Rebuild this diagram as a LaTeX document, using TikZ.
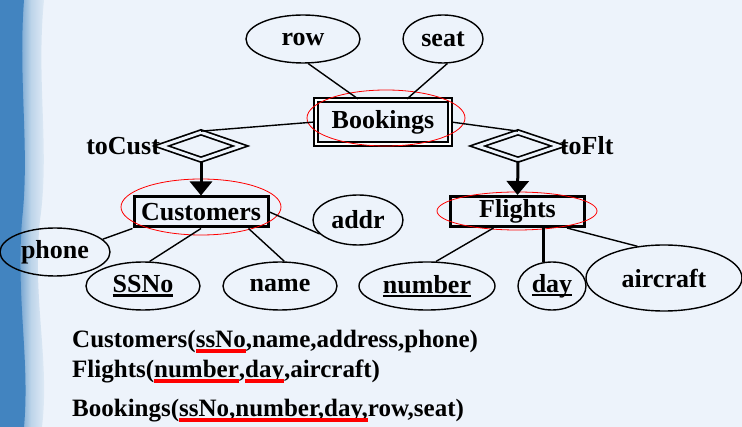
\documentclass[tikz,border=0pt]{standalone}
\usepackage{fontspec}
\setmainfont{Liberation Serif}
\usetikzlibrary{shapes.geometric,arrows.meta}
\definecolor{bg}{RGB}{237,243,251}
\definecolor{stripblue}{RGB}{66,132,192}
\tikzstyle{attr}=[ellipse,draw=black,line width=1.4pt,inner sep=0pt]
\tikzstyle{ent}=[rectangle,draw=black,line width=3pt,inner sep=0pt]
\tikzstyle{went}=[rectangle,draw=black,line width=2.2pt,double=white,double distance=1.6pt,inner sep=0pt]
\tikzstyle{rel}=[diamond,draw=black,line width=1.7pt,double=bg,double distance=3pt,inner sep=0pt]
\tikzstyle{hl}=[ellipse,draw=red,line width=0.8pt,inner sep=0pt]
\tikzstyle{ln}=[draw,line width=1.4pt]
\tikzstyle{isa}=[line width=3pt,-{Triangle[width=22pt,length=14pt]}]
\newcommand{\keyul}[1]{\setbox0=\hbox{#1}\rlap{\copy0}\rule[-4pt]{\wd0}{2.5pt}}
\newcommand{\redul}[1]{\setbox0=\hbox{#1}\rlap{\copy0}\textcolor{red}{\rule[-5pt]{\wd0}{3.5pt}}}

\begin{document}
\begin{tikzpicture}[x=1pt,y=-1pt,font=\fontsize{26}{30}\selectfont\bfseries]
\fill[bg] (0,0) rectangle (742,427);
\useasboundingbox (0,0) rectangle (742,427);
% left strip
\shade[left color=stripblue,right color=bg,middle color=stripblue!35!white] (12,0) -- (44,0) .. controls (36,80) and (50,150) .. (40,220) .. controls (32,300) and (50,360) .. (42,427) -- (12,427) -- cycle;
\fill[stripblue] (0,0) -- (24,0) .. controls (18,80) and (30,150) .. (22,220) .. controls (16,300) and (30,360) .. (24,427) -- (0,427) -- cycle;
% weak entity and its attributes
\node[attr,minimum width=114,minimum height=48] (row) at (303,39) {row};
\node[attr,minimum width=80,minimum height=48] (seat) at (443,39) {seat};
\node[went,minimum width=134,minimum height=44] (book) at (383,122) {Bookings};
\node[hl,minimum width=158,minimum height=56] (bookhl) at (386,118) {};
% relationships
\node[rel,minimum width=80,minimum height=28] (tocust) at (201,146) {};
\node[anchor=east,inner sep=0pt] (tocustlbl) at (tocust.west) {toCust};
\node[rel,minimum width=82,minimum height=28] (toflt) at (518,146) {};
\node[anchor=west,inner sep=0pt] (tofltlbl) at (toflt.east) {toFlt};
% entities
\node[ent,minimum width=134,minimum height=30] (cust) at (201,212) {Customers};
\node[hl,minimum width=160,minimum height=56] (custhl) at (201,207) {};
\node[ent,minimum width=134,minimum height=30] (flt) at (517.5,211.5) {Flights};
\node[hl,minimum width=160,minimum height=38] (flthl) at (517,211) {};
% attributes
\node[attr,minimum width=90,minimum height=50] (addr) at (358,220) {addr};
\node[attr,minimum width=110,minimum height=48] (phone) at (55,252) {phone};
\node[attr,minimum width=114,minimum height=48] (ssno) at (143,286) {\keyul{SSNo}};
\node[attr,minimum width=114,minimum height=48] (name) at (280,286) {name};
\node[attr,minimum width=136,minimum height=48] (number) at (427,286) {\keyul{number}};
\node[attr,minimum width=68,minimum height=48] (day) at (552,286) {\keyul{day}};
\node[attr,minimum width=156,minimum height=66] (aircraft) at (664,278) {aircraft};
% connectors
\draw[ln] ([xshift=-25]book.north) -- (row.282);
\draw[ln] ([xshift=24]book.north) -- (seat.280);
\draw[ln] (book.west) -- (tocust.north);
\draw[ln] (book.east) -- (toflt.north);
\draw[isa] (tocust.south) -- (cust.north);
\draw[isa] (toflt.south) -- (flt.north);
\draw[ln] (cust.south west) -- (phone.15);
\draw[ln] (cust.south) -- (ssno.75);
\draw[ln] ([xshift=-21]cust.south east) -- (name.80);
\draw[ln] (cust.east) -- (addr.200);
\draw[ln] ([xshift=-24]flt.south) -- (number.70);
\draw[line width=3pt] (day.110 |- flt.south) -- (day.110);
\draw[ln] ([xshift=-19]flt.south east) -- (aircraft.130);
% relations
\node[anchor=base west,inner sep=0pt,font=\fontsize{25}{30}\selectfont\bfseries] (custrel) at (72,348) {Customers(\redul{ssNo},name,address,phone)};
\node[anchor=base west,inner sep=0pt,font=\fontsize{25}{30}\selectfont\bfseries] (fltrel) at (72,378) {Flights(\redul{number},\redul{day},aircraft)};
\node[anchor=base west,inner sep=0pt,font=\fontsize{25}{30}\selectfont\bfseries] (bookrel) at (72,417) {Bookings(\redul{ssNo,}\redul{number,}\redul{day,}row,seat)};
\end{tikzpicture}
\end{document}
